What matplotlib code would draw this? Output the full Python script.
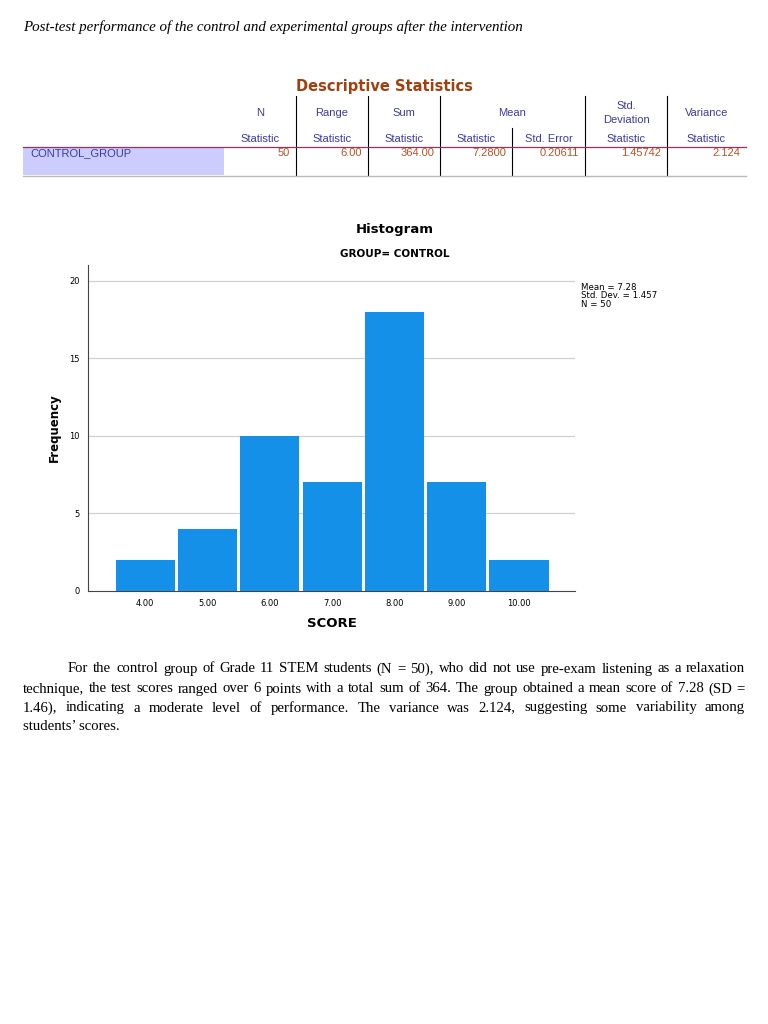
import matplotlib
matplotlib.use("Agg")
import matplotlib.pyplot as plt
from matplotlib.lines import Line2D
from matplotlib.patches import Rectangle

scores = [4, 5, 6, 7, 8, 9, 10]
freq = [2, 4, 10, 7, 18, 7, 2]
xtick_labels = ["4.00", "5.00", "6.00", "7.00", "8.00", "9.00", "10.00"]
yticks = [0, 5, 10, 15, 20]
col_heads = ["N", "Range", "Sum", "Mean", "", "Std.\nDeviation", "Variance"]
sub_heads = ["Statistic", "Statistic", "Statistic", "Statistic", "Std. Error", "Statistic", "Statistic"]
row_values = ["50", "6.00", "364.00", "7.2800", "0.20611", "1.45742", "2.124"]

W, H = 768, 1024
fig = plt.figure(figsize=(7.68, 10.24), dpi=100)
fig.patch.set_facecolor("white")

def fx(x): return x / W
def fy(y): return 1 - y / H

def txt(x, y, s, **kw):
    return fig.text(fx(x), fy(y), s, **kw)

def hline(x0, x1, y, **kw):
    fig.add_artist(Line2D([fx(x0), fx(x1)], [fy(y), fy(y)], **kw))

def vline(x, y0, y1, **kw):
    fig.add_artist(Line2D([fx(x), fx(x)], [fy(y0), fy(y1)], **kw))

serif = "Liberation Serif"
txt(23, 27, "Post-test performance of the control and experimental groups after the intervention",
    family=serif, style="italic", fontsize=10.8, va="center")

# Table
blue = "#3b3ba0"
orange = "#b5532a"
txt(384, 86, "Descriptive Statistics", ha="center", va="center", fontsize=10.5,
    fontweight="bold", color="#a0400f", family="DejaVu Sans")
fig.add_artist(Rectangle((fx(23), fy(175)), fx(224) - fx(23), fy(147) - fy(175),
                         facecolor="#ccccff", edgecolor="none"))
txt(30, 153, "CONTROL_GROUP", color=blue, fontsize=8, va="center", family="Liberation Sans")
col_x = [224, 296, 368, 440, 512, 585, 667, 746]
for i in range(7):
    cx = (col_x[i] + col_x[i + 1]) / 2
    if col_heads[i]:
        hx = (col_x[3] + col_x[5]) / 2 if i == 3 else cx
        txt(hx, 113, col_heads[i], ha="center", va="center",
            color=blue, fontsize=8, family="Liberation Sans", linespacing=1.5)
    txt(cx, 139, sub_heads[i], ha="center", va="center", color=blue, fontsize=8,
        family="Liberation Sans")
    txt(col_x[i + 1] - 6, 153, row_values[i], ha="right", va="center",
        color=orange, fontsize=8, family="Liberation Sans")
for x in [296, 368, 440, 585, 667]:
    vline(x, 96, 176, color="black", lw=0.8)
vline(512, 128, 176, color="black", lw=0.8)
hline(23, 746, 147, color="#a0305a", lw=0.9)
hline(23, 746, 176, color="#bbbbbb", lw=1.0)

# Histogram
ax = fig.add_axes([fx(88), fy(591), fx(575) - fx(88), fy(265) - fy(591)])
ax.bar(scores, freq, width=0.95, color="#1490e8", edgecolor="none", zorder=3)
ax.set_xlim(3.08, 10.9)
ax.set_ylim(0, 21.03)
ax.set_yticks(yticks)
ax.set_yticklabels([str(v) for v in yticks], fontsize=6)
ax.set_xticks(scores)
ax.set_xticklabels(xtick_labels, fontsize=6)
ax.tick_params(length=0, pad=6)
for v in yticks[1:]:
    ax.axhline(v, color="#d0d0d0", lw=0.9, zorder=1)
for s in ["top", "right"]:
    ax.spines[s].set_visible(False)
ax.spines["left"].set_color("#444444")
ax.spines["bottom"].set_color("#444444")
ax.set_xlabel("SCORE", fontsize=9.5, fontweight="bold", labelpad=6)
ax.set_ylabel("Frequency", fontsize=8.5, fontweight="bold", labelpad=6)
txt(395, 230, "Histogram", ha="center", va="center", fontsize=9.5, fontweight="bold")
txt(395, 254, "GROUP= CONTROL", ha="center", va="center", fontsize=7.5, fontweight="bold")
txt(581, 296, "Mean = 7.28\nStd. Dev. = 1.457\nN = 50", fontsize=6.2, va="center", linespacing=0.95)

# Paragraph
lines = [
    (68, "For the control group of Grade 11 STEM students (N = 50), who did not use pre-exam listening as a relaxation"),
    (23, "technique, the test scores ranged over 6 points with a total sum of 364. The group obtained a mean score of 7.28 (SD ="),
    (23, "1.46), indicating a moderate level of performance. The variance was 2.124, suggesting some variability among"),
]
ys = [669, 689, 708]
fig.canvas.draw()
r = fig.canvas.get_renderer()
for (x0, s), y in zip(lines, ys):
    # justify: distribute extra space between words
    words = s.split(" ")
    ts = [txt(0, y, w, family=serif, fontsize=10.6, va="center") for w in words]
    widths = [t.get_window_extent(r).width for t in ts]
    gap = (745 - x0 - sum(widths)) / (len(words) - 1)
    x = x0
    for t, w in zip(ts, widths):
        t.set_x(fx(x))
        x += w + gap
txt(23, 727, "students’ scores.", family=serif, fontsize=10.6, va="center")

fig.savefig("out.png", dpi=100)
